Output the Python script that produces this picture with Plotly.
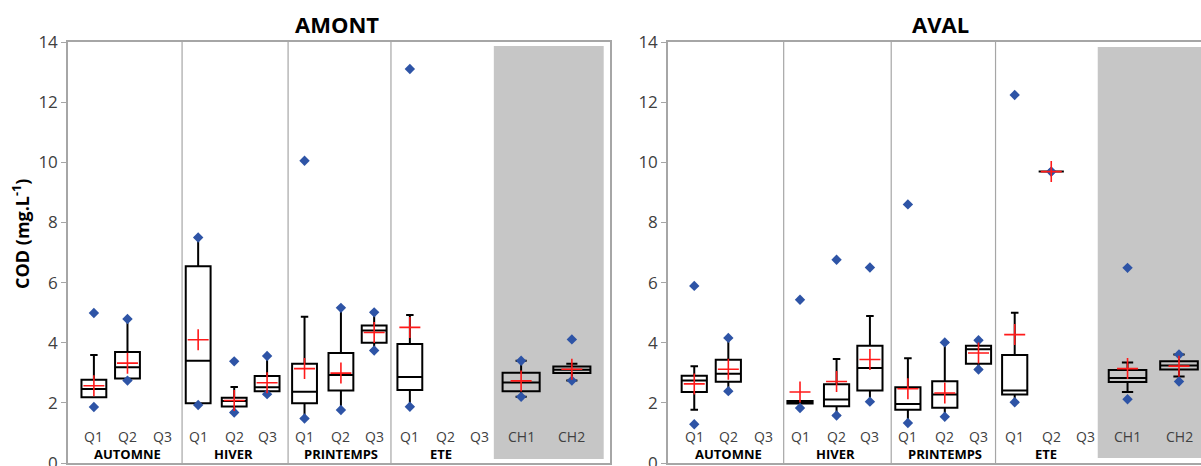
import plotly.graph_objects as go

# ---------------- data ----------------
slot_labels = ["Q1", "Q2", "Q3", "Q1", "Q2", "Q3", "Q1", "Q2", "Q3", "Q1", "Q2", "Q3", "CH1", "CH2"]
season_labels = ["AUTOMNE", "HIVER", "PRINTEMPS", "ETE"]
panel_titles = ["AMONT", "AVAL"]

# AMONT (upstream)
amont_q1 =     [2.19, 2.81, None, 1.99, 1.88, 2.39, 1.99, 2.41, 4.00, 2.43, None, None, 2.39, 2.99]
amont_median = [2.46, 3.18, None, 3.40, 2.06, 2.52, 2.37, 2.93, 4.41, 2.86, None, None, 2.68, 3.10]
amont_q3 =     [2.77, 3.69, None, 6.54, 2.17, 2.89, 3.30, 3.66, 4.57, 3.96, None, None, 3.00, 3.21]
amont_lo =     [2.19, 2.74, None, 1.93, 1.68, 2.29, 1.48, 1.76, 3.74, 1.87, None, None, 2.20, 2.74]
amont_hi =     [3.59, 4.79, None, 7.50, 2.53, 3.56, 4.86, 5.16, 5.01, 4.92, None, None, 3.40, 3.30]
amont_mean =   [2.57, 3.32, None, 4.10, 2.08, 2.67, 3.14, 2.99, 4.34, 4.51, None, None, 2.73, 3.12]
amont_min =    [1.86, 2.74, None, 1.93, 1.68, 2.29, 1.48, 1.76, 3.74, 1.87, None, None, 2.20, 2.74]
amont_max =    [4.99, 4.79, None, 7.50, 3.38, 3.56, 10.05, 5.16, 5.01, 13.10, None, None, 3.40, 4.11]

# AVAL (downstream)
aval_q1 =     [2.36, 2.70, None, 1.98, 1.89, 2.41, 1.77, 1.84, 3.30, 2.28, 9.69, None, 2.69, 3.11]
aval_median = [2.74, 2.97, None, 2.02, 2.11, 3.16, 1.96, 2.28, 3.78, 2.41, 9.69, None, 2.83, 3.24]
aval_q3 =     [2.90, 3.43, None, 2.06, 2.62, 3.90, 2.52, 2.72, 3.90, 3.59, 9.69, None, 3.09, 3.38]
aval_lo =     [1.77, 2.39, None, 1.98, 1.58, 2.04, 1.33, 1.54, 3.11, 2.02, 9.69, None, 2.36, 2.88]
aval_hi =     [3.22, 4.16, None, 2.06, 3.46, 4.89, 3.48, 4.01, 4.08, 5.00, 9.69, None, 3.34, 3.61]
aval_mean =   [2.63, 3.12, None, 2.36, 2.71, 3.44, 2.47, 2.33, 3.66, 4.27, 9.69, None, 3.14, 3.22]
aval_min =    [1.29, 2.39, None, 1.83, 1.58, 2.04, 1.33, 1.54, 3.11, 2.02, 9.69, None, 2.12, 2.71]
aval_max =    [5.89, 4.16, None, 5.43, 6.76, 6.50, 8.60, 4.01, 4.08, 12.24, 9.69, None, 6.49, 3.61]

# ---------------- layout helpers ----------------
W, H = 1201, 466
M_T, M_B = 42, 3
PLOT_H = H - M_T - M_B


def py(px):
    """pixel row (from top) -> paper y"""
    return (H - M_B - px) / PLOT_H


slot_pos = [0.74, 1.70, 2.69, 3.72, 4.75, 5.69, 6.76, 7.80, 8.75, 9.77, 10.80, 11.77, 12.95, 14.40]
season_pos = [1.70, 4.72, 7.80, 10.66]
dividers = [3.26, 6.29, 9.23]
BOX_W = 0.71
CH_W = 1.06

AXIS_COL = "#a6a6a6"
TXT_COL = "#404040"
FONT = "Open Sans"

fig = go.Figure()

panels = [
    dict(q1=amont_q1, med=amont_median, q3=amont_q3, lo=amont_lo, hi=amont_hi,
         mean=amont_mean, mn=amont_min, mx=amont_max, xa="x", ya="y",
         gray=(12.17, 15.31, 0.13, 13.87)),
    dict(q1=aval_q1, med=aval_median, q3=aval_q3, lo=aval_lo, hi=aval_hi,
         mean=aval_mean, mn=aval_min, mx=aval_max, xa="x2", ya="y2",
         gray=(12.11, 16.0, 0.17, 13.83)),
]

shapes = []
annotations = []
for p in panels:
    xref = p["xa"]
    yref = p["ya"]
    gx0, gx1, gy0, gy1 = p["gray"]
    shapes.append(dict(type="rect", xref=xref, yref=yref, x0=gx0, x1=gx1, y0=gy0, y1=gy1,
                       fillcolor="#c6c6c6", line=dict(width=0), layer="below"))
    for d in dividers:
        shapes.append(dict(type="line", xref=xref, yref=yref, x0=d, x1=d, y0=0, y1=14,
                           line=dict(color=AXIS_COL, width=1.2), layer="below"))
    for i, x in enumerate(slot_pos):
        annotations.append(dict(x=x, y=0.88, xref=xref, yref=yref, text=slot_labels[i],
                                xanchor="center", yanchor="middle",
                                showarrow=False, font=dict(family=FONT, size=14, color=TXT_COL)))
        if p["q1"][i] is None:
            continue
        w = CH_W if slot_labels[i].startswith("CH") else BOX_W
        fig.add_trace(go.Box(
            x=[x], q1=[p["q1"][i]], median=[p["med"][i]], q3=[p["q3"][i]],
            lowerfence=[p["lo"][i]], upperfence=[p["hi"][i]],
            width=w, whiskerwidth=0.3, boxpoints=False,
            line=dict(color="black", width=2), fillcolor="rgba(0,0,0,0)",
            xaxis=xref, yaxis=yref, showlegend=False, hoverinfo="skip"))
    for j, s in enumerate(season_labels):
        annotations.append(dict(x=season_pos[j], y=0.3, xref=xref, yref=yref, text="<b>%s</b>" % s,
                                xanchor="center", yanchor="middle",
                                showarrow=False, font=dict(family=FONT, size=13, color="black")))
    xs = [x for x, v in zip(slot_pos, p["mn"]) if v is not None]
    fig.add_trace(go.Scatter(x=xs + xs,
                             y=[v for v in p["mn"] if v is not None] + [v for v in p["mx"] if v is not None],
                             mode="markers", marker=dict(symbol="diamond", size=8, color="#2e54a6"),
                             xaxis=xref, yaxis=yref, showlegend=False, hoverinfo="skip"))
    fig.add_trace(go.Scatter(x=xs, y=[v for v in p["mean"] if v is not None], mode="markers",
                             marker=dict(symbol="cross-thin", size=15, line=dict(color="#ff1a1a", width=1.6)),
                             xaxis=xref, yaxis=yref, showlegend=False, hoverinfo="skip"))

# titles
annotations.append(dict(x=337 / W, y=py(24), xref="paper", yref="paper", text="<b>%s</b>" % panel_titles[0],
                        xanchor="center", yanchor="middle",
                        showarrow=False, font=dict(family=FONT, size=22, color="black")))
annotations.append(dict(x=940 / W, y=py(24), xref="paper", yref="paper", text="<b>%s</b>" % panel_titles[1],
                        xanchor="center", yanchor="middle",
                        showarrow=False, font=dict(family=FONT, size=22, color="black")))
annotations.append(dict(x=21 / W, y=py(234), xref="paper", yref="paper",
                        text="<b>COD (mg.L<sup>-1</sup>)</b>", textangle=-90,
                        xanchor="center", yanchor="middle",
                        showarrow=False, font=dict(family=FONT, size=18, color="black")))

yax = dict(range=[0, 14], dtick=2, showgrid=False, zeroline=False, showline=True, automargin=False,
           linecolor=AXIS_COL, linewidth=1.5, ticks="outside", ticklen=5, tickcolor=AXIS_COL,
           ticklabeloverflow="allow",
           tickfont=dict(family=FONT, size=17, color=TXT_COL))
xax = dict(showgrid=False, zeroline=False, showline=True, mirror=True, linecolor=AXIS_COL,
           linewidth=1.5, showticklabels=False, ticks="", automargin=False)

fig.update_layout(
    width=W, height=H,
    margin=dict(l=0, r=0, t=M_T, b=M_B, pad=0, autoexpand=False),
    plot_bgcolor="white", paper_bgcolor="white",
    boxmode="overlay",
    xaxis=dict(xax, domain=[68 / W, 610 / W], range=[0, 15.49]),
    yaxis=dict(yax, anchor="x", mirror=True),
    xaxis2=dict(xax, domain=[668 / W, 1.0], range=[0, 15.02], anchor="y2"),
    yaxis2=dict(yax, anchor="x2", mirror=False),
    shapes=shapes,
    annotations=annotations,
)

fig.write_html("out.html", config={"displayModeBar": False},
               post_script="document.body.style.margin='0px';")
